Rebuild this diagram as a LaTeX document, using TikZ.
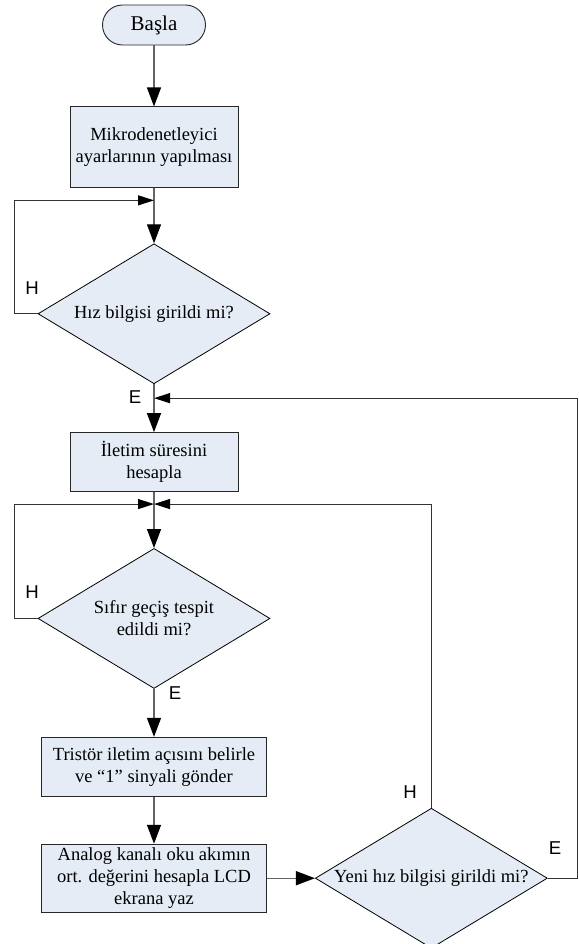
\documentclass[tikz,border=0pt]{standalone}
\usepackage{fontspec}
\setmainfont{Liberation Serif}
\newfontfamily\lblfont{Liberation Sans}
\usetikzlibrary{arrows.meta,positioning,shapes.geometric}
\definecolor{cFill}{RGB}{229,236,246}
\definecolor{cLine}{RGB}{100,100,100}

\begin{document}
\begin{tikzpicture}[
  x=1pt, y=-1pt,
  font=\fontsize{18.5}{21.7}\selectfont,
  node distance=48pt,
  box/.style={rectangle, draw=black!85, line width=0.9pt, fill=cFill,
    align=center, inner sep=2pt, minimum width=168pt},
  term/.style={rectangle, rounded corners=20pt, draw=black!85, line width=0.9pt,
    fill=cFill, minimum width=103pt, minimum height=40pt,
    font=\fontsize{21}{24}\selectfont},
  dec/.style={diamond, draw=black, line width=0.8pt, fill=cFill, align=center,
    inner sep=0pt, minimum width=232pt, minimum height=140pt, shape aspect=1.66},
  ar/.style={-{Triangle[length=19pt,width=14pt,color=black]}, line width=1.3pt, draw=cLine},
  arside/.style={-{Triangle[length=16pt,width=10pt,color=black]}, line width=1.1pt, draw=black!80},
  lbl/.style={font=\lblfont\fontsize{18.6}{20}\selectfont, inner sep=0pt}]
\useasboundingbox (0,0) rectangle (578,944);
\node[term] (start) at (154,25) {Başla};
\node[box, minimum height=81pt, below=61pt of start] (init) {Mikrodenetleyici\\ayarlarının yapılması};
\node[dec, below=55pt of init] (hiz) {Hız bilgisi girildi mi?};
\node[box, minimum height=59pt, below=48pt of hiz] (iletim) {İletim süresini\\hesapla};
\node[dec, below=56pt of iletim] (sifir) {Sıfır geçiş tespit\\edildi mi?};
\node[box, minimum width=225pt, minimum height=59pt, below=48pt of sifir] (tristor) {Tristör iletim açısını belirle\\ve “1” sinyali gönder};
\node[box, minimum width=225pt, minimum height=68pt, below=47pt of tristor] (analog) {Analog kanalı oku akımın\\ort. değerini hesapla LCD\\ekrana yaz};
\node[dec, right=48pt of analog] (yeni) {Yeni hız bilgisi girildi mi?};
% merge points
\coordinate[below=12pt of init] (m1);
\coordinate[below=14pt of hiz] (m2);
\coordinate[below=12pt of iletim] (m3);
% labels
\node[lbl] (h1) at (32,288) {H};
\node[lbl] (e1) at (135,397) {E};
\node[lbl] (h2) at (32,592) {H};
\node[lbl] (e2) at (175,693) {E};
\node[lbl] (h3) at (410,792) {H};
\node[lbl] (e3) at (555,848) {E};
% main flow
\draw[ar] (start) -- (init);
\draw[ar] (init) -- (hiz);
\draw[ar] (hiz) -- (iletim);
\draw[ar] (iletim) -- (sifir);
\draw[ar] (sifir) -- (tristor);
\draw[ar] (tristor) -- (analog);
\draw[ar] (analog) -- (yeni);
% loops
\draw[arside] (hiz.west) -- ++(-23pt,0pt) |- (m1);
\draw[arside] (sifir.west) -- ++(-23pt,0pt) |- (m3);
\draw[arside] (yeni.north) |- (m3);
\draw[arside] (yeni.east) -- ++(30pt,0pt) |- (m2);
\end{tikzpicture}
\end{document}
